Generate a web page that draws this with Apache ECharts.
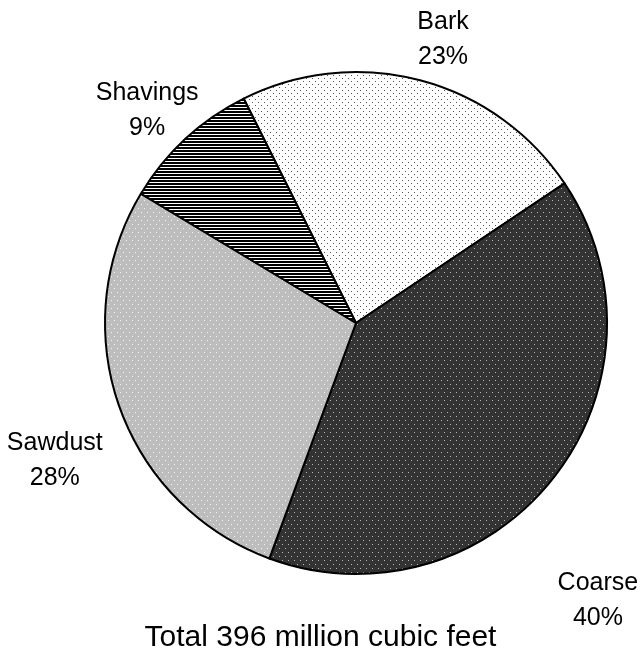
<!DOCTYPE html>
<html>
<head>
<meta charset="utf-8">
<style>
  html, body { margin: 0; padding: 0; background: #ffffff; }
  #chart { width: 641px; height: 662px; }
</style>
<script src="https://cdn.jsdelivr.net/npm/echarts@6/dist/echarts.min.js"></script>
</head>
<body>
<div id="chart"></div>
<script>
// Residue types and their share of the total volume (percent)
const categories = ['Bark', 'Coarse', 'Sawdust', 'Shavings'];
const shares = [23, 40, 28, 9];
const totalLabel = 'Total 396 million cubic feet';

// Label placement: distance from the pie centre and a small angular nudge (degrees)
const labelRadius = [296, 368, 331, 298];
const labelAngleShift = [2.3, 10.7, -5.1, -1.7];

const CENTER = [356, 323];
const RADIUS = 251;
const START_ANGLE = 116.6; // degrees, counter-clockwise from 3 o'clock

// Small repeating fill tiles
function tile(w, h, draw) {
  const c = document.createElement('canvas');
  c.width = w; c.height = h;
  const g = c.getContext('2d');
  draw(g, w, h);
  return c;
}
function dots(bg, dot, w, h) {
  return tile(w, h, (g) => {
    g.fillStyle = bg; g.fillRect(0, 0, w, h);
    g.fillStyle = dot;
    g.fillRect(0, 0, 1, 1);
    g.fillRect(w / 2, h / 2, 1, 1);
  });
}
const fills = [
  dots('#ffffff', '#555555', 6, 6),      // Bark
  dots('#333333', '#b8b8b8', 6, 8),      // Coarse
  dots('#bdbdbd', '#f4f4f4', 6, 8),      // Sawdust
  tile(4, 3, (g, w) => {                  // Shavings: horizontal hatching
    g.fillStyle = '#ffffff'; g.fillRect(0, 0, w, 3);
    g.fillStyle = '#000000'; g.fillRect(0, 0, w, 2);
  })
];

const total = shares.reduce((a, b) => a + b, 0);
function midAngle(i) {
  // clockwise degrees from 12 o'clock
  let before = 0;
  for (let k = 0; k < i; k++) before += shares[k];
  const start = 90 - START_ANGLE;
  return start + (before + shares[i] / 2) / total * 360;
}

const chart = echarts.init(document.getElementById('chart'), null, { renderer: 'canvas' });
chart.setOption({
  animation: false,
  backgroundColor: '#ffffff',
  title: {
    text: totalLabel,
    left: 'center',
    top: 618,
    textStyle: {
      fontFamily: 'Liberation Sans, Arial, sans-serif',
      fontSize: 30,
      fontWeight: 'normal',
      color: '#000000'
    }
  },
  series: [{
    type: 'pie',
    center: CENTER,
    radius: RADIUS,
    startAngle: START_ANGLE,
    clockwise: true,
    avoidLabelOverlap: false,
    silent: true,
    itemStyle: { borderColor: '#000000', borderWidth: 2 },
    label: {
      show: true,
      position: 'outside',
      formatter: (p) => p.name + '\n' + p.value + '%',
      fontFamily: 'Liberation Sans, Arial, sans-serif',
      fontSize: 25,
      lineHeight: 35,
      color: '#000000',
      align: 'center'
    },
    labelLine: { show: false },
    labelLayout: (params) => {
      const i = params.dataIndex;
      const a = (midAngle(i) + labelAngleShift[i]) * Math.PI / 180;
      return {
        x: CENTER[0] + labelRadius[i] * Math.sin(a),
        y: CENTER[1] - labelRadius[i] * Math.cos(a),
        align: 'center',
        verticalAlign: 'middle'
      };
    },
    data: categories.map((name, i) => ({
      name: name,
      value: shares[i],
      itemStyle: { color: { image: fills[i], repeat: 'repeat' } }
    }))
  }]
});
</script>
</body>
</html>
